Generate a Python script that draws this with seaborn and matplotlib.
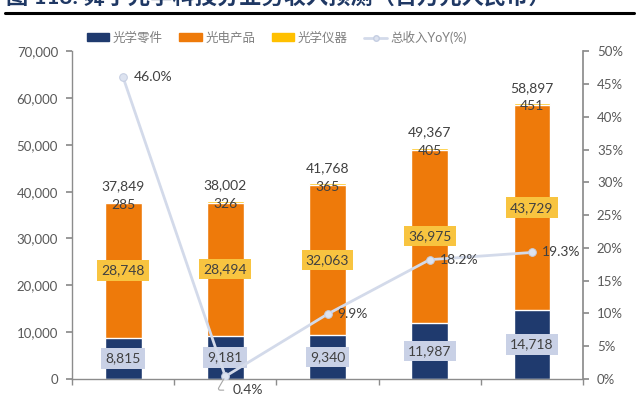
import numpy as np
import pandas as pd
import matplotlib
matplotlib.use("Agg")
import matplotlib.pyplot as plt
import matplotlib.patches as mpatches
from matplotlib.lines import Line2D
from matplotlib.ticker import FuncFormatter, MultipleLocator, FixedLocator
import seaborn as sns

# data (百万元)
years = ["FY19A", "FY20A", "FY21E", "FY22E", "FY23E"]
optical_parts = [8815, 9181, 9340, 11987, 14718]       # 光学零件
optoelec = [28748, 28494, 32063, 36975, 43729]         # 光电产品
instruments = [285, 326, 365, 405, 451]                # 光学仪器
totals = [37849, 38002, 41768, 49367, 58897]
yoy = [0.460, 0.004, 0.099, 0.182, 0.193]              # 总收入YoY

navy = "#1F3A6E"
orange = "#EE7A0A"
gold = "#FFC000"
linec = "#D3DAEA"
grey = "#595959"

sns.set_theme(style="white")
plt.rcParams["font.family"] = ["Lato", "Noto Sans CJK SC", "DejaVu Sans"]

df = pd.DataFrame({"year": years, "parts": optical_parts,
                   "opto": optoelec, "inst": instruments})
df["lvl1"] = df["parts"]
df["lvl2"] = df["parts"] + df["opto"]
df["lvl3"] = df["lvl2"] + df["inst"]

fig = plt.figure(figsize=(6.4, 3.95), dpi=100)
ax = fig.add_axes([0.1125, 0.0405, 0.7985, 0.83])

# stacked bars by overplotting cumulative heights
sns.barplot(data=df, x="year", y="lvl3", color=gold, saturation=1, width=0.36, ax=ax)
sns.barplot(data=df, x="year", y="lvl2", color=orange, saturation=1, width=0.36, ax=ax)
sns.barplot(data=df, x="year", y="lvl1", color=navy, saturation=1, width=0.36, ax=ax)

ax.set_xlim(-0.5, 4.5)
ax.set_ylim(0, 70000)
ax.yaxis.set_major_locator(MultipleLocator(10000))
ax.yaxis.set_major_formatter(FuncFormatter(lambda v, p: f"{v:,.0f}"))
ax.set_xlabel("")
ax.set_ylabel("")
for s in ["top", "right"]:
    ax.spines[s].set_visible(False)
for s in ["left", "bottom"]:
    ax.spines[s].set_color("#8C8C8C")
    ax.spines[s].set_linewidth(1.0)
ax.tick_params(axis="y", which="major", left=True, length=4, color="#8C8C8C",
               labelsize=9.5, labelcolor=grey, pad=6)
ax.xaxis.set_minor_locator(FixedLocator(np.arange(-0.5, 5, 1)))
ax.tick_params(axis="x", which="minor", bottom=True, length=4, color="#8C8C8C")
ax.tick_params(axis="x", which="major", bottom=False, labelsize=9.5,
               labelcolor=grey, pad=15)

# data labels
for i in range(len(years)):
    ax.text(i, df["lvl1"][i] / 2, f"{optical_parts[i]:,}", ha="center", va="center",
            fontsize=10, color="#404040",
            bbox=dict(boxstyle="square,pad=0.3", fc="#C9D1E6", ec="none"))
    ax.text(i, df["lvl1"][i] + optoelec[i] / 2, f"{optoelec[i]:,}", ha="center",
            va="center", fontsize=10, color="#404040",
            bbox=dict(boxstyle="square,pad=0.3", fc="#F8C440", ec="none"))
    ax.text(i, df["lvl3"][i] - 700, f"{instruments[i]:,}", ha="center", va="center",
            fontsize=10, color="#404040")
    ax.text(i, df["lvl3"][i] + 3300, f"{totals[i]:,}", ha="center", va="center",
            fontsize=10, color="#404040")

# YoY line on right axis
ax2 = ax.twinx()
ax2.set_position(ax.get_position())
sns.lineplot(x=np.arange(len(years)), y=yoy, color=linec, linewidth=2, marker="o",
             markersize=5.5, markerfacecolor="#DDE3F0", markeredgecolor="#C5CEE2", ax=ax2)
ax2.set_ylim(0, 0.5)
ax2.yaxis.set_major_locator(MultipleLocator(0.05))
ax2.yaxis.set_major_formatter(FuncFormatter(lambda v, p: f"{v*100:.0f}%"))
for s in ["top", "left", "bottom"]:
    ax2.spines[s].set_visible(False)
ax2.spines["right"].set_color("#8C8C8C")
ax2.tick_params(axis="y", right=True, length=4, color="#8C8C8C",
                labelsize=9.5, labelcolor=grey, pad=6)
ax2.set_xlim(-0.5, 4.5)

for i, v in enumerate(yoy):
    if i == 1:
        ax2.annotate(f"{v*100:.1f}%", xy=(i, v), xytext=(i + 0.22, -0.017),
                     ha="center", va="center", fontsize=10, color="#404040",
                     annotation_clip=False,
                     arrowprops=dict(arrowstyle="-", color="#A6A6A6", lw=0.8,
                                     shrinkA=4, shrinkB=2,
                                     connectionstyle="angle,angleA=0,angleB=60,rad=3"))
    else:
        ax2.text(i + 0.1, v, f"{v*100:.1f}%", ha="left", va="center",
                 fontsize=10, color="#404040")

# legend
handles = [mpatches.Patch(color=navy, label="光学零件"),
           mpatches.Patch(color=orange, label="光电产品"),
           mpatches.Patch(color=gold, label="光学仪器"),
           Line2D([], [], color=linec, lw=2, marker="o", markersize=4,
                  markerfacecolor="#DDE3F0", markeredgecolor="#C5CEE2",
                  label="总收入YoY(%)")]
leg = fig.legend(handles=handles, loc="center left", bbox_to_anchor=(0.118, 0.906),
                 ncol=4, frameon=False, fontsize=9, handlelength=1.8,
                 handleheight=0.6, columnspacing=1.3, handletextpad=0.3)
for t in leg.get_texts():
    t.set_color("#7F7F7F")

# title (cut at the top edge) and rule under it
fig.text(0.01, 0.99, "图 118: 舜宇光学科技分业务收入预测（百万元人民币）",
         ha="left", va="baseline", fontsize=16, fontweight="bold", color="#1F3864")
fig.add_artist(Line2D([0.008, 0.99], [0.968, 0.968], color="black", lw=2.2))

fig.savefig("out.png", dpi=100)
